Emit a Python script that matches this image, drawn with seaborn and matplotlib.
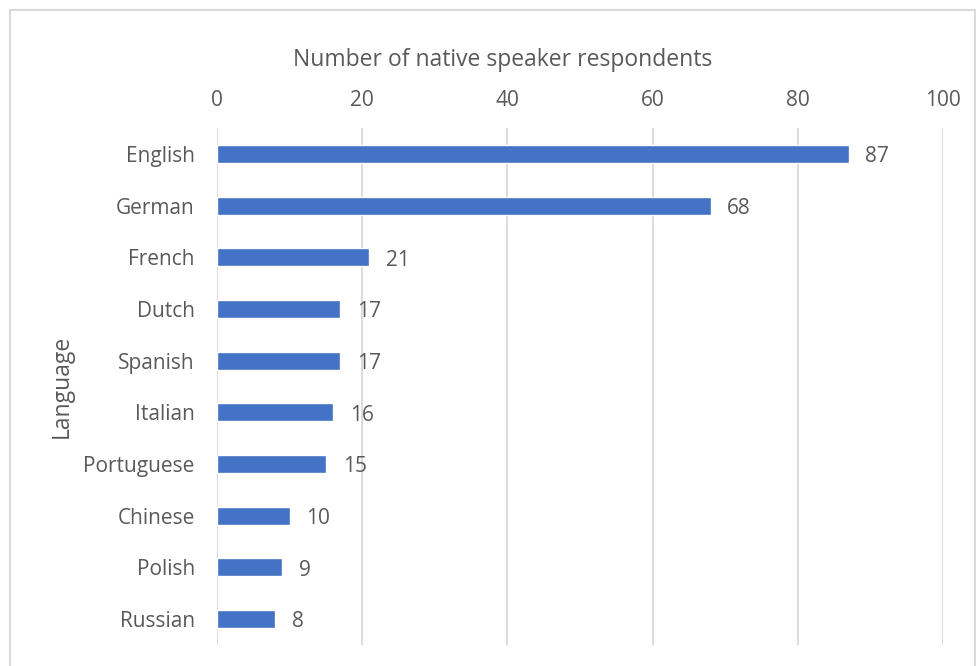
import matplotlib
matplotlib.use("Agg")
import matplotlib.pyplot as plt
import seaborn as sns
import pandas as pd
from matplotlib.patches import Rectangle

languages = ["English", "German", "French", "Dutch", "Spanish", "Italian",
             "Portuguese", "Chinese", "Polish", "Russian"]
respondents = [87, 68, 21, 17, 17, 16, 15, 10, 9, 8]
x_ticks = [0, 20, 40, 60, 80, 100]

df = pd.DataFrame({"Language": languages, "Respondents": respondents})

sns.set_theme(style="white")
plt.rcParams["font.family"] = ["Open Sans", "DejaVu Sans"]
text_color = "#595959"
grid_color = "#D9D9D9"
bar_color = "#4472C4"

fig = plt.figure(figsize=(9.76, 6.66), dpi=100)
ax_w, ax_h = 943 - 217, 645 - 128
ax = fig.add_axes([217/976, 1-645/666, ax_w/976, ax_h/666])

sns.barplot(data=df, y="Language", x="Respondents", orient="h",
            color=bar_color, saturation=1, width=0.35, ax=ax, order=languages)

ax.set_xlim(0, 100)
ax.set_ylim(len(languages)-0.5, -0.5)
ax.set_xticks(x_ticks)
ax.xaxis.tick_top()
ax.xaxis.set_label_position("top")
ax.tick_params(axis="x", length=0, pad=12, labelsize=15, labelcolor=text_color)
ax.tick_params(axis="y", length=0, pad=16, labelsize=15, labelcolor=text_color)
for s in ax.spines.values():
    s.set_visible(False)
ax.grid(axis="x", color=grid_color, linewidth=1.3)
ax.set_axisbelow(True)

xl = ax.set_xlabel("Number of native speaker respondents", fontsize=16.5, color=text_color)
xl.set_va("center")
ax.xaxis.set_label_coords((503-217)/ax_w, (645-60)/ax_h)
yl = ax.set_ylabel("Language", fontsize=16.5, color=text_color)
yl.set_va("center")
ax.yaxis.set_label_coords((62-217)/ax_w, 0.5)

for i, v in enumerate(respondents):
    ax.annotate(str(v), xy=(v, i), xytext=(12, -2), textcoords="offset points",
                ha="left", va="center", fontsize=15, color=text_color)

fig.patches.append(Rectangle((10/976, -0.1), (975-10)/976, 1.1 - 10/666,
                             transform=fig.transFigure, fill=False,
                             edgecolor=grid_color, linewidth=1.5))

fig.savefig("out.png", dpi=100)
